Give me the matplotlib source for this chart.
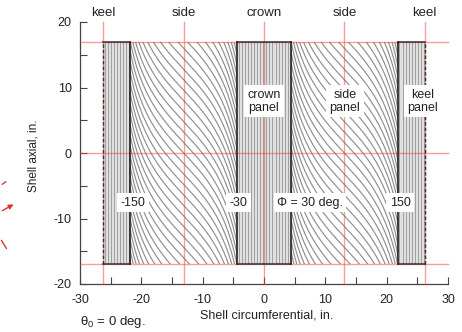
import numpy as np
import matplotlib
matplotlib.use('Agg')
import matplotlib.pyplot as plt
from matplotlib.patches import Rectangle, FancyArrowPatch
from matplotlib.ticker import MultipleLocator

plt.rcParams['font.family'] = ['Liberation Sans', 'DejaVu Sans']
plt.rcParams['axes.unicode_minus'] = False

# ---------------- data ----------------
keel_x = 26.2                      # circumferential position of keel (phi = 180 deg), in.
panel_phi = [-150, -30, 30, 150]   # steered/axial panel boundaries, deg
ref_phi = [-180, -90, 0, 90, 180]  # reference meridians, deg
ref_names = ['keel', 'side', 'crown', 'side', 'keel']
axial_ref = [-17, 0, 17]           # axial reference lines, in.
shell_half_length = 17             # in.
theta_side = 45                    # apparent path angle at the side, deg
theta_edge = 12                    # apparent path angle next to the axial panels, deg
boundary_labels = ['-150', '-30', 'Φ = 30 deg.', '150']
boundary_label_x = [-21.4, -4.2, 7.5, 22.2]
boundary_label_y = -7.6
panel_names = ['crown\npanel', 'side\npanel', 'keel\npanel']
panel_name_x = [0, 13.2, 25.9]
panel_name_y = 7.9
axial_fiber_spacing = 0.5
steered_offset_step = 1.6

xt_major = [-30, -20, -10, 0, 10, 20, 30]
yt_major = [-20, -10, 0, 10, 20]

def phi2x(p):
    return np.asarray(p, dtype=float) * keel_x / 180.0

# ---------------- figure ----------------
fig = plt.figure(figsize=(4.62, 3.32), dpi=100)
ax = fig.add_axes([80 / 462, 1 - 284 / 332, 368 / 462, 262 / 332])
ax.set_xlim(-30, 30)
ax.set_ylim(-20, 20)

bx = phi2x(panel_phi)
H = shell_half_length

# steered regions (between axial panels)
regions = [(bx[0], bx[1]), (bx[2], bx[3])]
u = np.linspace(0, 1, 1500)
for a, b in regions:
    x = a + u * (b - a)
    th = np.radians(theta_edge + (theta_side - theta_edge) * np.sin(np.pi * u))
    dydx = -1.0 / np.tan(th)
    g = np.concatenate([[0], np.cumsum(0.5 * (dydx[1:] + dydx[:-1]) * np.diff(x))])
    g -= np.interp(0.5 * (a + b), x, g)
    clip = Rectangle((a, -H), b - a, 2 * H, transform=ax.transData)
    for C in np.arange(-120, 120, steered_offset_step):
        y = C + g
        m = (y > -H - 3) & (y < H + 3)
        if m.sum() < 2:
            continue
        ln, = ax.plot(x[m], y[m], color='#8f8f8f', lw=0.85, zorder=1)
        ln.set_clip_path(clip)

# axial-fiber panels
panels = [(-keel_x, bx[0]), (bx[1], bx[2]), (bx[3], keel_x)]
for a, b in panels:
    ax.add_patch(Rectangle((a, -H), b - a, 2 * H, facecolor='#e0e0e0',
                           edgecolor='none', zorder=2))
    for xv in np.arange(a + axial_fiber_spacing / 2, b, axial_fiber_spacing):
        ax.plot([xv, xv], [-H, H], color='#959595', lw=0.6, zorder=3)

# reference lines
red = (0.93, 0.25, 0.2)
for yv in axial_ref:
    ax.plot([-30, 30], [yv, yv], color=red, alpha=0.5, lw=1.0, zorder=4, clip_on=False)
for p, name in zip(ref_phi, ref_names):
    xv = float(phi2x(p))
    ax.plot([xv, xv], [-20, 20], color=red, alpha=0.5, lw=1.0, zorder=4, clip_on=False)
    ax.text(xv, 21.3, name, ha='center', va='center', fontsize=9.5,
            color='#222222', clip_on=False)

# panel outlines
for a, b in panels:
    ax.plot([a, b], [H, H], color='#333333', lw=1.1, zorder=5)
    ax.plot([a, b], [-H, -H], color='#333333', lw=1.1, zorder=5)
for xv in bx:
    ax.plot([xv, xv], [-H, H], color='#222222', lw=1.2, zorder=5)
for xv in (-keel_x, keel_x):
    ax.plot([xv, xv], [-H, H], color='#333333', lw=1.0, ls=(0, (2.5, 1.5)), zorder=5)

# labels inside plot
box = dict(facecolor='white', edgecolor='none', pad=2.5)
for t, xv in zip(boundary_labels, boundary_label_x):
    ax.text(xv, boundary_label_y, t, ha='center', va='center', fontsize=9,
            color='#222222', bbox=box, zorder=6)
for t, xv in zip(panel_names, panel_name_x):
    ax.text(xv, panel_name_y, t, ha='center', va='center', fontsize=9,
            color='#222222', bbox=box, zorder=6, linespacing=1.1)

# axes styling
for sp in ('top', 'right'):
    ax.spines[sp].set_visible(False)
for sp in ('left', 'bottom'):
    ax.spines[sp].set_color('#444444')
    ax.spines[sp].set_linewidth(0.9)
ax.set_xticks(xt_major)
ax.set_yticks(yt_major)
ax.xaxis.set_minor_locator(MultipleLocator(5))
ax.yaxis.set_minor_locator(MultipleLocator(5))
ax.tick_params(which='both', direction='in', length=5, width=0.8, color='#444444',
               labelsize=9, labelcolor='#222222')
ax.tick_params(axis='x', pad=7)
ax.tick_params(axis='y', pad=6)

fig.text(33 / 462, 1 - 156 / 332, 'Shell axial, in.', rotation=90, ha='center',
         va='center', fontsize=8.5, color='#222222')
fig.text(267 / 462, 1 - 316 / 332, 'Shell circumferential, in.', ha='center',
         va='center', fontsize=9, color='#222222')
fig.text(80 / 462, 1 - 322 / 332, r'$\mathregular{\theta_0}$ = 0 deg.', ha='left',
         va='center', fontsize=9.5, color='#222222')

# fragment of neighbouring sketch (red arrows at left edge)
for (x0, y0), (x1, y1), arr in [((0, 186), (8, 180), False),
                                ((0, 212), (16, 203), True),
                                ((0, 238), (8, 251), False)]:
    fa = FancyArrowPatch((x0 / 462, 1 - y0 / 332), (x1 / 462, 1 - y1 / 332),
                         transform=fig.transFigure, arrowstyle='-|>' if arr else '-',
                         mutation_scale=7, color=(0.85, 0.2, 0.2), lw=1.0)
    fig.patches.append(fa)

fig.savefig('out.png', dpi=100)
